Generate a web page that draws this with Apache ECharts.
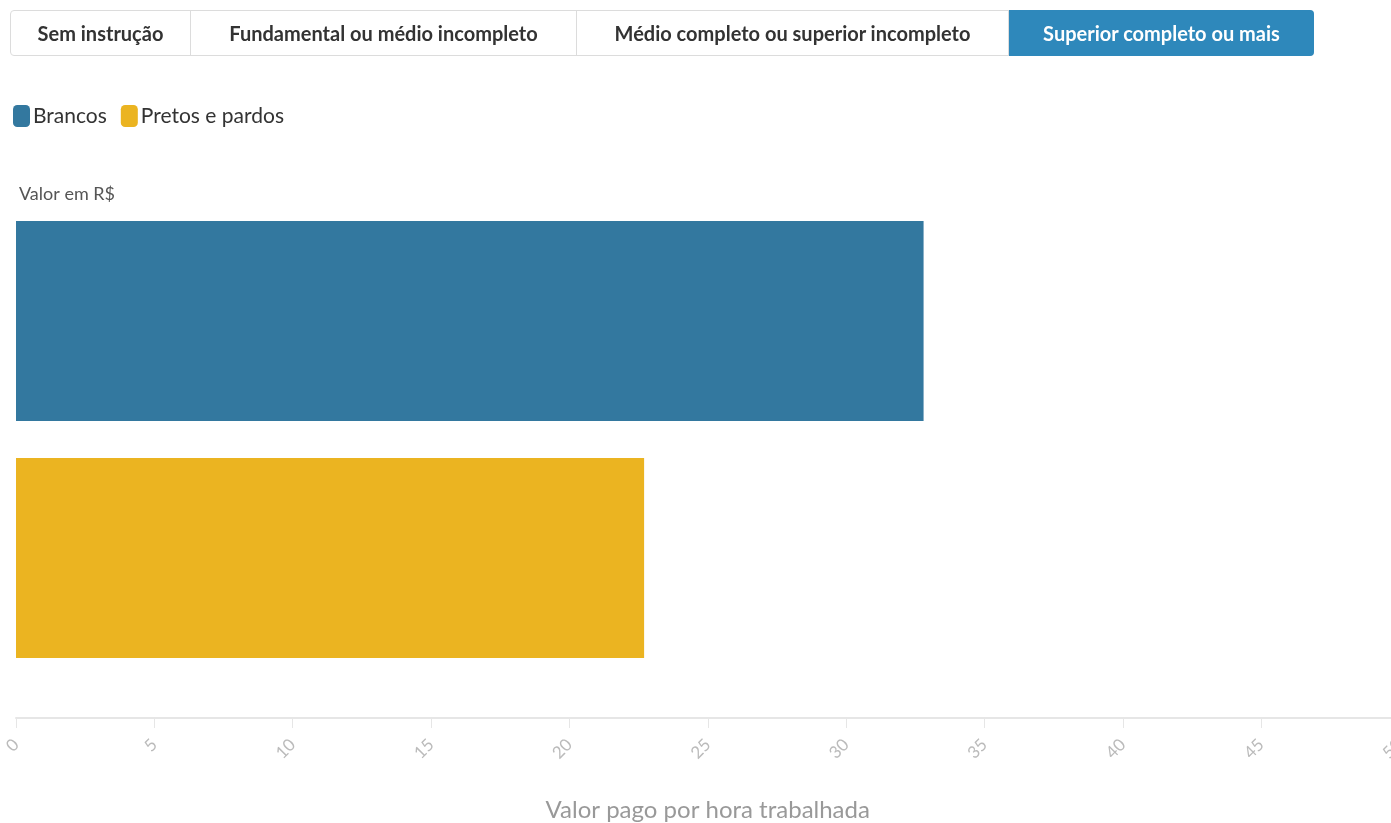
<!DOCTYPE html>
<html>
<head>
<meta charset="utf-8">
<script src="https://cdn.jsdelivr.net/npm/echarts@6/dist/echarts.min.js"></script>
<style>
  html, body { margin: 0; padding: 0; background: #fff; overflow: hidden; }
  #chart { position: absolute; left: 0; top: 0; width: 1391px; height: 823px; }
  #tabs { position: absolute; left: 10px; top: 10px; height: 46px; display: flex; z-index: 2;
          border: 1px solid #dcdcdc; border-radius: 4px; box-sizing: border-box; }
  .tab { height: 44px; line-height: 44px; text-align: center; font-family: Lato, "Noto Sans", sans-serif;
         font-weight: bold; font-size: 20px; color: #333; border-right: 1px solid #dcdcdc; box-sizing: border-box; white-space: nowrap; }
  .tab:last-child { border-right: none; }
  .tab.active { background: #2e88bb; color: #fff; border-radius: 0 4px 4px 0; height: 46px; line-height: 46px; margin-top: -1px; margin-right: -1px; }
</style>
</head>
<body>
<div id="tabs"></div>
<div id="chart"></div>
<script>
const tabLabels = ["Sem instrução", "Fundamental ou médio incompleto", "Médio completo ou superior incompleto", "Superior completo ou mais"];
const tabWidths = [180, 386, 432, 305];
const activeTab = 3;
const seriesNames = ["Brancos", "Pretos e pardos"];
const category = ["Superior completo ou mais"];
const brancos = [32.8];
const pretosPardos = [22.7];
const xTicks = [0, 50, 5];

const tabsEl = document.getElementById('tabs');
tabLabels.forEach((t, i) => {
  const d = document.createElement('div');
  d.className = 'tab' + (i === activeTab ? ' active' : '');
  d.style.width = tabWidths[i] + 'px';
  d.textContent = t;
  tabsEl.appendChild(d);
});

const chart = echarts.init(document.getElementById('chart'));
const font = 'Lato, "Noto Sans", sans-serif';
chart.setOption({
  animation: false,
  textStyle: { fontFamily: font },
  title: {
    text: 'Valor em R$', left: 14, top: 180,
    textStyle: { fontSize: 18, fontWeight: 'normal', color: '#555', fontFamily: font }
  },
  legend: {
    data: seriesNames, left: 8, top: 100, icon: 'roundRect', itemWidth: 17, itemHeight: 22, itemGap: 14,
    textStyle: { fontSize: 21, color: '#333', fontFamily: font, padding: [0, 0, 0, -2] }
  },
  grid: { left: 16, width: 1383.5, top: 161, bottom: 105, containLabel: false, outerBoundsMode: 'none' },
  xAxis: {
    type: 'value', min: xTicks[0], max: xTicks[1], interval: xTicks[2],
    name: 'Valor pago por hora trabalhada', nameLocation: 'middle', nameGap: 80,
    nameTextStyle: { fontSize: 24, color: '#999', fontFamily: font },
    axisLine: { show: true, lineStyle: { color: '#e6e6e6', width: 2 } },
    axisTick: { show: true, length: 10, lineStyle: { color: '#e6e6e6' } },
    axisLabel: { rotate: 45, color: '#bbb', fontSize: 17, margin: 24, fontFamily: font },
    splitLine: { show: false }
  },
  yAxis: {
    type: 'category', data: category, inverse: true,
    axisLine: { show: false }, axisTick: { show: false }, axisLabel: { show: false }
  },
  series: [
    { name: seriesNames[0], type: 'bar', data: brancos, barWidth: 200, barGap: '18.5%', itemStyle: { color: '#33789f' } },
    { name: seriesNames[1], type: 'bar', data: pretosPardos, barWidth: 200, itemStyle: { color: '#ebb421' } }
  ]
});
</script>
</body>
</html>
